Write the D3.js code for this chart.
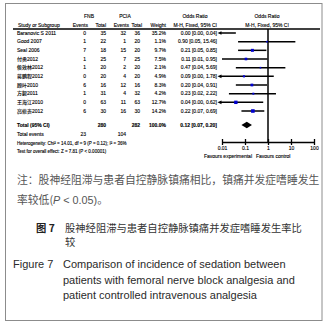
<html lang="zh">
<head>
<meta charset="UTF-8">
<title>Figure 7</title>
<style>
  body { margin: 0; background: #fff; }
  svg { display: block; }
  .fp text { font-family: "Liberation Sans", Arial, "Noto Sans CJK SC", sans-serif; fill: #000; stroke: #000; stroke-width: 0.12; }
  .cap { font-family: "Noto Sans CJK SC", "Noto Sans", sans-serif; }
  .en { font-family: "Liberation Sans", Arial, sans-serif; fill: #2a2a2a; }
</style>
<script src="https://d3js.org/d3.v7.min.js"></script>
</head>
<body>
<div id="chart"></div>
<script>
// study data
const studies = ["Baranovic S 2011", "Good 2007", "Seal 2006", "付勇2012", "侯效林2012", "蒋鹏程2012", "顾叶2010", "方毅2011", "王海江2010", "高修贵2012"];
const fnbEvents = [0, 1, 7, 1, 1, 0, 6, 1, 0, 6];
const fnbTotal = [35, 22, 18, 25, 20, 20, 16, 31, 63, 30];
const pciaEvents = [32, 1, 15, 7, 2, 4, 12, 4, 11, 16];
const pciaTotal = [36, 20, 20, 25, 20, 20, 16, 32, 63, 30];
const weights = [35.2, 1.1, 9.7, 7.5, 2.1, 4.9, 8.3, 4.2, 12.7, 14.2];
const oddsRatio = [0.00, 0.90, 0.21, 0.11, 0.47, 0.09, 0.20, 0.23, 0.04, 0.22];
const ciLow = [0.00, 0.05, 0.05, 0.01, 0.04, 0.00, 0.04, 0.02, 0.00, 0.07];
const ciHigh = [0.04, 15.46, 0.85, 0.95, 5.69, 1.78, 0.91, 2.22, 0.62, 0.69];
const pooled = [0.12, 0.07, 0.20];      // OR, low, high
const totals = [280, 282];
const totalEvents = [23, 104];
const tickValues = [0.01, 0.1, 1, 10, 100];
const tickLabels = ["0.01", "0.1", "1", "10", "100"];

const W = 328, H = 327;
const svg = d3.select("#chart").append("svg")
  .attr("width", W).attr("height", H);

svg.append("rect").attr("width", W).attr("height", H).attr("fill", "#fff");
svg.append("rect")
  .attr("x", 5.5).attr("y", 3.5).attr("width", 316.5).attr("height", 317)
  .attr("fill", "none").attr("stroke", "#8c8c8c").attr("stroke-width", 1);

const fp = svg.append("g").attr("class", "fp");

var x = d3.scaleLog().domain([0.01, 100]).range([222, 314]);
var y = d3.scaleLinear().domain([0, 9]).range([33, 111]);
const fs = 5;
const fmt2 = d => d.toFixed(2);
const ciText = i => `${fmt2(oddsRatio[i])} [${fmt2(ciLow[i])}, ${fmt2(ciHigh[i])}]`;

// column anchors (right aligned)
const col = { fe: 86, ft: 106, pe: 126, pt: 140, w: 166, ci: 217 };

function txt (g, xx, yy, s, anchor, size, weight) {
  return g.append("text").attr("x", xx).attr("y", yy)
    .attr("text-anchor", anchor || "start")
    .attr("font-size", size || fs)
    .attr("font-weight", weight || "normal")
    .text(s);
}

// header
txt(fp, 89, 17.5, "FNB", "middle");
txt(fp, 125, 17.5, "PCIA", "middle");
txt(fp, 195, 17.5, "Odds Ratio", "middle");
txt(fp, 267, 17.5, "Odds Ratio", "middle");
txt(fp, 18, 26.5, "Study or Subgroup");
txt(fp, 88, 26.5, "Events", "end");
txt(fp, col.ft, 26.5, "Total", "end");
txt(fp, 129, 26.5, "Events", "end");
txt(fp, 142, 26.5, "Total", "end");
txt(fp, col.w, 26.5, "Weight", "end");
txt(fp, col.ci, 26.5, "M-H, Fixed, 95% CI", "end");
txt(fp, 267, 26.5, "M-H, Fixed, 95% CI", "middle");
fp.append("line").attr("x1", 13).attr("x2", 320).attr("y1", 29).attr("y2", 29)
  .attr("stroke", "#000").attr("stroke-width", 1.6);

// rows
studies.forEach((s, i) => {
  const yy = y(i) + 1.8;
  txt(fp, 17, yy, s);
  txt(fp, col.fe, yy, fnbEvents[i], "end");
  txt(fp, col.ft, yy, fnbTotal[i], "end");
  txt(fp, col.pe, yy, pciaEvents[i], "end");
  txt(fp, col.pt, yy, pciaTotal[i], "end");
  txt(fp, col.w, yy, weights[i].toFixed(1) + "%", "end");
  txt(fp, col.ci, yy, ciText(i), "end");
});

// line of no effect
fp.append("line").attr("x1", x(1)).attr("x2", x(1)).attr("y1", 29).attr("y2", 142)
  .attr("stroke", "#000").attr("stroke-width", 1.5);

// confidence intervals
const lo = x.domain()[0];
studies.forEach((s, i) => {
  const yy = y(i);
  const off = ciLow[i] < lo;
  const x1 = off ? x(lo) - 1 : x(ciLow[i]);
  fp.append("line").attr("x1", x1).attr("x2", x(Math.min(ciHigh[i], 100))).attr("y1", yy).attr("y2", yy)
    .attr("stroke", "#000").attr("stroke-width", 1.5);
  if (off) {
    fp.append("path")
      .attr("d", `M${x(lo) - 4.5},${yy} L${x(lo) - 0.5},${yy - 1.8} L${x(lo) - 0.5},${yy + 1.8} Z`)
      .attr("fill", "#000");
  }
  if (oddsRatio[i] >= lo) {
    const side = Math.max(1.6, 0.95 * Math.sqrt(weights[i]));
    fp.append("rect")
      .attr("x", x(oddsRatio[i]) - side / 2).attr("y", yy - side / 2)
      .attr("width", side).attr("height", side)
      .attr("fill", "#0000d0");
  }
});

// totals
const ty = 125;
txt(fp, 17, ty + 1.8, "Total (95% CI)", "start", fs, "bold");
txt(fp, col.ft, ty + 1.8, totals[0], "end", fs, "bold");
txt(fp, col.pt, ty + 1.8, totals[1], "end", fs, "bold");
txt(fp, col.w, ty + 1.8, "100.0%", "end", fs, "bold");
txt(fp, col.ci, ty + 1.8, `${fmt2(pooled[0])} [${fmt2(pooled[1])}, ${fmt2(pooled[2])}]`, "end", fs, "bold");
fp.append("path")
  .attr("d", `M${x(pooled[1])},${ty} L${x(pooled[0])},${ty - 3.2} L${x(pooled[2])},${ty} L${x(pooled[0])},${ty + 3.2} Z`)
  .attr("fill", "#000");

txt(fp, 17, 135.8, "Total events");
txt(fp, col.fe, 135.8, totalEvents[0], "end");
txt(fp, col.pe, 135.8, totalEvents[1], "end");

txt(fp, 17, 144.6, "Heterogeneity: Chi² = 14.01, df = 9 (P = 0.12); I² = 36%", "start", 4.5);
txt(fp, 17, 152.6, "Test for overall effect: Z = 7.81 (P < 0.00001)", "start", 4.5);

// axis
const axis = d3.axisBottom(x)
  .tickValues(tickValues)
  .tickFormat((d, i) => tickLabels[i])
  .tickSize(3)
  .tickSizeOuter(0)
  .tickPadding(1.5);
const ax = fp.append("g").attr("transform", "translate(0,142)").call(axis);
ax.select(".domain").attr("stroke", "#000").attr("stroke-width", 1.6);
ax.selectAll(".tick line").attr("y1", -3).attr("stroke", "#000").attr("stroke-width", 1.3);
ax.selectAll(".tick text").attr("font-size", fs)
  .attr("font-family", "Liberation Sans, Arial, sans-serif");

txt(fp, 252, 157.8, "Favours experimental", "end");
txt(fp, 256, 157.8, "Favours control", "start");

// Chinese note and captions
const cap = svg.append("g").attr("class", "cap");
cap.append("text").attr("x", 17).attr("y", 184.2).attr("font-size", 10.8).attr("fill", "#555")
  .text("注：股神经阻滞与患者自控静脉镇痛相比，镇痛并发症嗜睡发生");
const l2 = cap.append("text").attr("x", 17).attr("y", 203.6).attr("font-size", 10.8).attr("fill", "#555");
l2.append("tspan").text("率较低(");
l2.append("tspan").attr("font-style", "italic").attr("font-family", "Liberation Sans, Arial, sans-serif").text("P");
l2.append("tspan").attr("font-family", "Liberation Sans, Arial, sans-serif").text(" < 0.05)");
l2.append("tspan").text("。");

cap.append("text").attr("x", 36).attr("y", 232).attr("font-size", 10.3).attr("fill", "#222")
  .attr("font-weight", "bold").text("图 7");
cap.append("text").attr("x", 65).attr("y", 232).attr("font-size", 10.3).attr("fill", "#333")
  .text("股神经阻滞与患者自控静脉镇痛并发症嗜睡发生率比");
cap.append("text").attr("x", 65).attr("y", 246).attr("font-size", 10.3).attr("fill", "#333")
  .text("较");

const en = svg.append("g").attr("class", "en");
const enLines = ["Comparison of incidence of sedation between",
  "patients with femoral nerve block analgesia and",
  "patient controlled intravenous analgesia"];
en.append("text").attr("x", 13).attr("y", 268).attr("font-size", 11).text("Figure 7");
enLines.forEach((s, i) => {
  en.append("text").attr("x", 63).attr("y", 268 + i * 15.5).attr("font-size", 11).text(s);
});
</script>
</body>
</html>
